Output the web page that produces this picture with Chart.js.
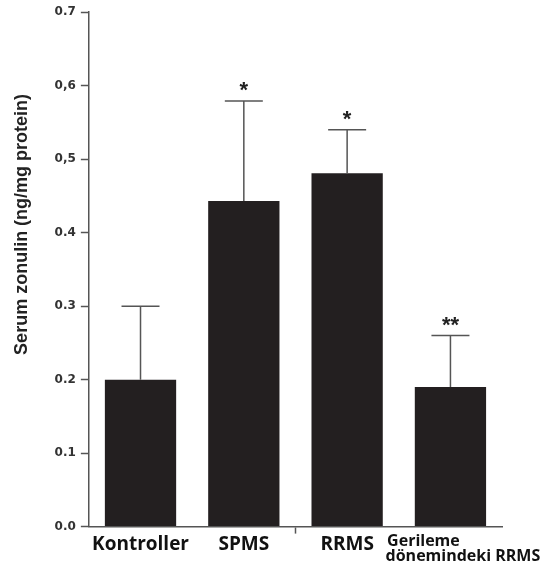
<!DOCTYPE html>
<html>
<head>
<meta charset="utf-8">
<script src="https://cdn.jsdelivr.net/npm/chart.js@4/dist/chart.umd.min.js"></script>
<style>
  html, body { margin: 0; padding: 0; background: #fff; }
  #wrap { width: 545px; height: 570px; }
</style>
</head>
<body>
<div id="wrap"><canvas id="chart"></canvas></div>
<script>
// Data
const categories = ['Kontroller', 'SPMS', 'RRMS',
  ['      Gerileme                   ', '      dönemindeki RRMS']];
const means = [0.20, 0.443, 0.481, 0.19];
const errorTops = [0.30, 0.579, 0.54, 0.26];
const marks = ['', '*', '*', '**'];
const yTickLabels = ['0.0', '0.1', '0.2', '0.3', '0.4', '0,5', '0,6', '0.7'];

const axisColor = '#555';

// error bars (upper whisker only) and significance stars
const errorBarPlugin = {
  id: 'errorBars',
  afterDatasetsDraw(chart) {
    const ctx = chart.ctx;
    const x = chart.scales.x, y = chart.scales.y;
    ctx.save();
    ctx.strokeStyle = axisColor;
    ctx.lineWidth = 1.5;
    means.forEach((m, i) => {
      const cx = x.getPixelForValue(i);
      const yb = y.getPixelForValue(m);
      const yt = y.getPixelForValue(errorTops[i]);
      ctx.beginPath();
      ctx.moveTo(cx, yb);
      ctx.lineTo(cx, yt);
      ctx.moveTo(cx - 19, yt);
      ctx.lineTo(cx + 19, yt);
      ctx.stroke();
      if (marks[i]) {
        ctx.fillStyle = '#222';
        ctx.font = 'bold 22px "Liberation Sans", Arial, sans-serif';
        ctx.textAlign = 'center';
        ctx.textBaseline = 'alphabetic';
        ctx.fillText(marks[i], cx, yt - 4);
      }
    });
    ctx.restore();
  }
};

new Chart(document.getElementById('chart').getContext('2d'), {
  type: 'bar',
  data: {
    labels: categories,
    datasets: [{
      data: means,
      backgroundColor: '#231f20',
      borderWidth: 0,
      categoryPercentage: 1,
      barPercentage: 0.69
    }]
  },
  options: {
    responsive: true,
    maintainAspectRatio: false,
    animation: false,
    layout: { padding: { top: 8, right: 38, bottom: 6, left: 11 } },
    plugins: { legend: { display: false }, tooltip: { enabled: false } },
    scales: {
      x: {
        offset: true,
        border: { color: axisColor, width: 1.5 },
        grid: {
          offset: true,
          drawOnChartArea: false,
          tickLength: 7,
          tickWidth: 1.5,
          tickColor: ctx => ctx.index === 2 ? axisColor : 'rgba(0,0,0,0)'
        },
        ticks: {
          color: '#111',
          maxRotation: 0,
          autoSkip: false,
          padding: 0,
          font: ctx => ctx.index === 3
            ? { family: '"Open Sans", sans-serif', size: 16, weight: 'bold', lineHeight: 0.95 }
            : { family: '"Open Sans", sans-serif', size: 19, weight: 'bold', lineHeight: 1.2 }
        }
      },
      y: {
        min: 0,
        max: 0.7,
        border: { color: axisColor, width: 1.5 },
        grid: {
          drawOnChartArea: false,
          tickLength: 8,
          tickWidth: 1.5,
          tickColor: axisColor
        },
        ticks: {
          stepSize: 0.1,
          color: '#333',
          padding: 5,
          font: { family: '"DejaVu Sans", sans-serif', size: 12, weight: 'bold' },
          callback: (v, i) => yTickLabels[i]
        },
        title: {
          display: true,
          text: '                  Serum zonulin (ng/mg protein)',
          color: '#222',
          padding: { top: 0, bottom: 17 },
          font: { family: '"Liberation Sans", Arial, sans-serif', size: 18, weight: 'bold' }
        }
      }
    }
  },
  plugins: [errorBarPlugin]
});
</script>
</body>
</html>
